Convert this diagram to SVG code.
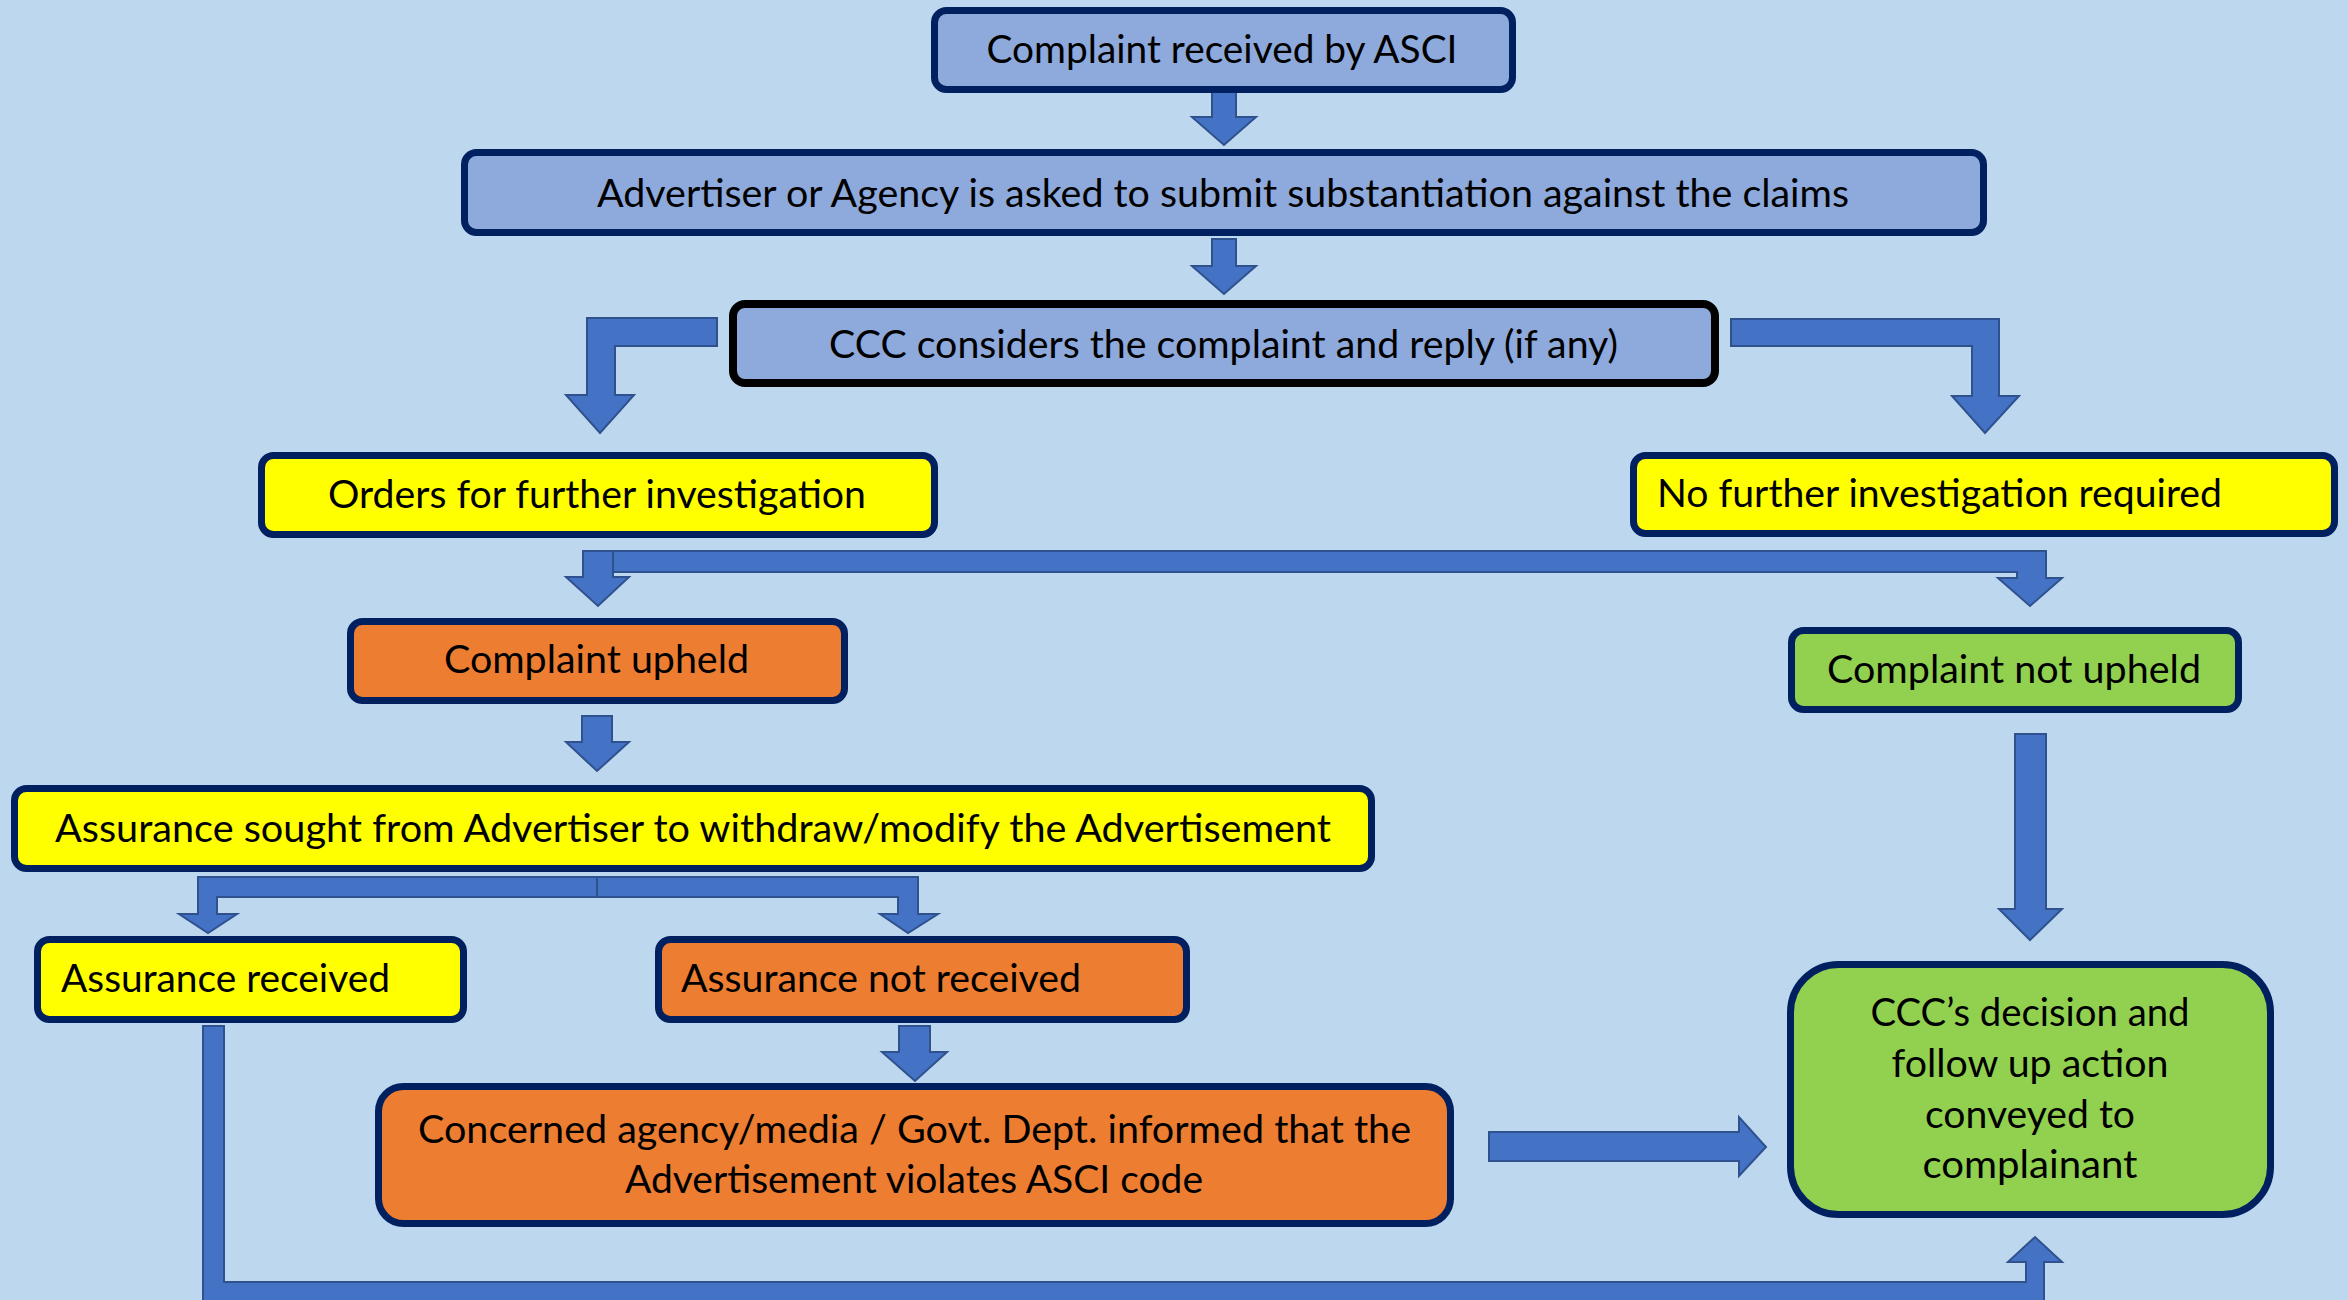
<svg xmlns="http://www.w3.org/2000/svg" width="2348" height="1300" viewBox="0 0 2348 1300">
<style>
.bg{fill:#BDD7EE}
.n{stroke:#002060;stroke-width:7}
.blue{fill:#8EA9DB}
.yel{fill:#FFFF00}
.org{fill:#ED7D31}
.grn{fill:#92D050}
.blk{stroke:#000000;stroke-width:8}
.t{font-family:Lato,"Open Sans","Liberation Sans",sans-serif;font-size:38px;fill:#000000}
.c{text-anchor:middle}
.ar{fill:#4472C4;stroke:#2F528F;stroke-width:2;stroke-linejoin:miter}
</style>
<rect class="bg" x="0" y="0" width="2348" height="1300"/>

<g id="connectors">
<path class="ar" d="M1212,90 H1236 V117 H1256 L1224,145 L1192,117 H1212 Z"/>
<path class="ar" d="M1212,239 H1236 V266 H1256 L1224,294 L1192,266 H1212 Z"/>
<path class="ar" d="M717,318 V346 H615 V395 H634 L600,433 L566,395 H587 V318 Z"/>
<path class="ar" d="M1731,319 H1999 V396 H2019 L1985,433 L1952,396 H1972 V346 H1731 Z"/>
<path class="ar" d="M613,551 H2046 V578 H2062 L2030,606 L1998,578 H2017 V572 H613 Z"/>
<path class="ar" d="M583,551 H613 V577 H629 L598,606 L566,577 H583 Z"/>
<path class="ar" d="M582,716 H612 V742 H629 L597,771 L566,742 H582 Z"/>
<path class="ar" d="M597,877 V897 H217 V914 H237 L208,933 L179,914 H198 V877 Z"/>
<path class="ar" d="M597,877 H918 V914 H938 L908,933 L880,914 H898 V897 H597 Z"/>
<path class="ar" d="M899,1026 H930 V1052 H947 L915,1081 L882,1052 H899 Z"/>
<path class="ar" d="M1489,1132 H1739 V1117 L1766,1147 L1739,1176 V1161 H1489 Z"/>
<path class="ar" d="M2015,734 H2046 V909 H2062 L2030,940 L1999,909 H2015 Z"/>
<path class="ar" d="M203,1026 H224 V1282 H2026 V1262 H2008 L2035,1237 L2062,1262 H2044 V1306 H203 Z"/>
</g>

<g id="n1">
<rect class="n blue" x="934.5" y="10.5" width="578" height="79" rx="12"/>
<text class="t c" x="1222" y="63" textLength="471" lengthAdjust="spacingAndGlyphs">Complaint received by ASCI</text>
</g>
<g id="n2">
<rect class="n blue" x="464.5" y="152.5" width="1519" height="80" rx="12"/>
<text class="t c" x="1223" y="207" textLength="1252" lengthAdjust="spacingAndGlyphs">Advertiser or Agency is asked to submit substantiation against the claims</text>
</g>
<g id="n3">
<rect class="blk blue" x="733" y="304" width="982" height="79" rx="12"/>
<text class="t c" x="1223.5" y="358" textLength="789" lengthAdjust="spacingAndGlyphs">CCC considers the complaint and reply (if any)</text>
</g>
<g id="n4">
<rect class="n yel" x="261.5" y="455.5" width="673" height="79" rx="12"/>
<text class="t c" x="597" y="508" textLength="538" lengthAdjust="spacingAndGlyphs">Orders for further investigation</text>
</g>
<g id="n5">
<rect class="n yel" x="1633.5" y="455.5" width="701" height="78" rx="12"/>
<text class="t" x="1657" y="507" textLength="565" lengthAdjust="spacingAndGlyphs">No further investigation required</text>
</g>
<g id="n6">
<rect class="n org" x="350.5" y="621.5" width="494" height="79" rx="12"/>
<text class="t c" x="596.5" y="673" textLength="305" lengthAdjust="spacingAndGlyphs">Complaint upheld</text>
</g>
<g id="n7">
<rect class="n grn" x="1791.5" y="630.5" width="447" height="79" rx="12"/>
<text class="t c" x="2014" y="683" textLength="374" lengthAdjust="spacingAndGlyphs">Complaint not upheld</text>
</g>
<g id="n8">
<rect class="n yel" x="14.5" y="788.5" width="1357" height="80" rx="12"/>
<text class="t c" x="693" y="842" textLength="1276" lengthAdjust="spacingAndGlyphs">Assurance sought from Advertiser to withdraw/modify the Advertisement</text>
</g>
<g id="n9">
<rect class="n yel" x="37.5" y="939.5" width="426" height="80" rx="12"/>
<text class="t" x="61" y="992" textLength="329" lengthAdjust="spacingAndGlyphs">Assurance received</text>
</g>
<g id="n10">
<rect class="n org" x="658.5" y="939.5" width="528" height="80" rx="12"/>
<text class="t" x="681" y="992" textLength="400" lengthAdjust="spacingAndGlyphs">Assurance not received</text>
</g>
<g id="n11">
<rect class="n org" x="378.5" y="1086.5" width="1072" height="137" rx="25"/>
<text class="t c" x="914.5" y="1143" textLength="993" lengthAdjust="spacingAndGlyphs">Concerned agency/media / Govt. Dept. informed that the</text>
<text class="t c" x="914" y="1193" textLength="578" lengthAdjust="spacingAndGlyphs">Advertisement violates ASCI code</text>
</g>
<g id="n12">
<rect class="n grn" x="1790.5" y="964.5" width="480" height="250" rx="48"/>
<text class="t c" x="2030" y="1026" textLength="319" lengthAdjust="spacingAndGlyphs">CCC’s decision and</text>
<text class="t c" x="2030" y="1077" textLength="277" lengthAdjust="spacingAndGlyphs">follow up action</text>
<text class="t c" x="2030" y="1128" textLength="210" lengthAdjust="spacingAndGlyphs">conveyed to</text>
<text class="t c" x="2030" y="1178" textLength="215" lengthAdjust="spacingAndGlyphs">complainant</text>
</g>
</svg>
